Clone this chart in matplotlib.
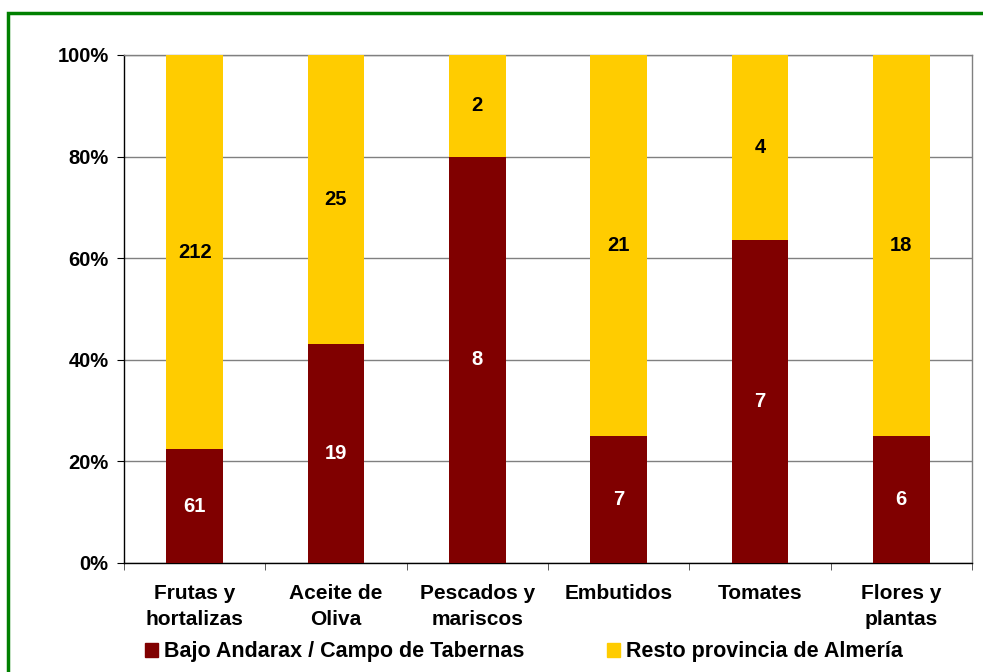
import matplotlib
matplotlib.use("Agg")
import matplotlib.pyplot as plt
from matplotlib.patches import Patch, Rectangle
from matplotlib.ticker import PercentFormatter
import numpy as np

categories = ["Frutas y\nhortalizas", "Aceite de\nOliva", "Pescados y\nmariscos",
              "Embutidos", "Tomates", "Flores y\nplantas"]
bajo_andarax = [61, 19, 8, 7, 7, 6]
resto_almeria = [212, 25, 2, 21, 4, 18]
series_names = ["Bajo Andarax / Campo de Tabernas", "Resto provincia de Almería"]
yticks = [0, 20, 40, 60, 80, 100]

c_red = "#800000"
c_yel = "#FFCC00"

plt.rcParams["font.family"] = ["Liberation Sans", "DejaVu Sans"]
plt.rcParams["font.weight"] = "bold"
FS = 14.5
FSX = 15
FSL = 15.5

fig = plt.figure(figsize=(9.83, 6.72), dpi=100)
ax = fig.add_axes([124/983, 1-563/672, (972-124)/983, (563-55)/672])

a = np.array(bajo_andarax, float)
b = np.array(resto_almeria, float)
tot = a + b
pa = a / tot * 100
pb = b / tot * 100
x = np.arange(len(categories))
w = 0.4
ax.bar(x, pa, w, color=c_red, zorder=3)
ax.bar(x, pb, w, bottom=pa, color=c_yel, zorder=3)

for i in range(len(x)):
    ax.text(x[i], pa[i]/2, str(bajo_andarax[i]), ha="center", va="center",
            color="white", fontsize=FS, fontweight="bold", zorder=4)
    ax.text(x[i], pa[i] + pb[i]/2, str(resto_almeria[i]), ha="center", va="center",
            color="black", fontsize=FS, fontweight="bold", zorder=4)

ax.set_xlim(-0.5, len(categories) - 0.5)
ax.set_ylim(0, 100)
ax.set_yticks(yticks)
ax.yaxis.set_major_formatter(PercentFormatter(decimals=0))
ax.grid(axis="y", color="#808080", lw=1, zorder=1)
ax.set_xticks(x)
ax.set_xticklabels(categories, fontsize=FSX, fontweight="bold", linespacing=1.45)
ax.set_xticks(np.arange(len(categories) + 1) - 0.5, minor=True)
ax.tick_params(axis="x", which="major", length=0, pad=15)
ax.tick_params(axis="x", which="minor", length=5, direction="out", color="#404040")
ax.tick_params(axis="y", length=5, direction="out", pad=6, labelsize=FS)
for lab in ax.get_yticklabels():
    lab.set_fontweight("bold")
ax.spines["left"].set_color("black")
ax.spines["bottom"].set_color("black")
ax.spines["top"].set_color("#808080")
ax.spines["right"].set_color("#808080")
for s in ax.spines.values():
    s.set_linewidth(1)

handles = [Patch(color=c_red), Patch(color=c_yel)]
fig.legend(handles, series_names, loc="center", bbox_to_anchor=(0.533, 1-652/672),
           ncol=2, frameon=False, handlelength=0.6, handleheight=0.6,
           handletextpad=0.3, columnspacing=3.8, prop={"weight": "bold", "size": FSL})

fig.add_artist(Rectangle((7.5/983, -0.1), 1.2, 1.1 - 12.5/672, transform=fig.transFigure,
                         fill=False, edgecolor="#008000", lw=2.5, clip_on=False))

fig.savefig("out.png", dpi=100)
